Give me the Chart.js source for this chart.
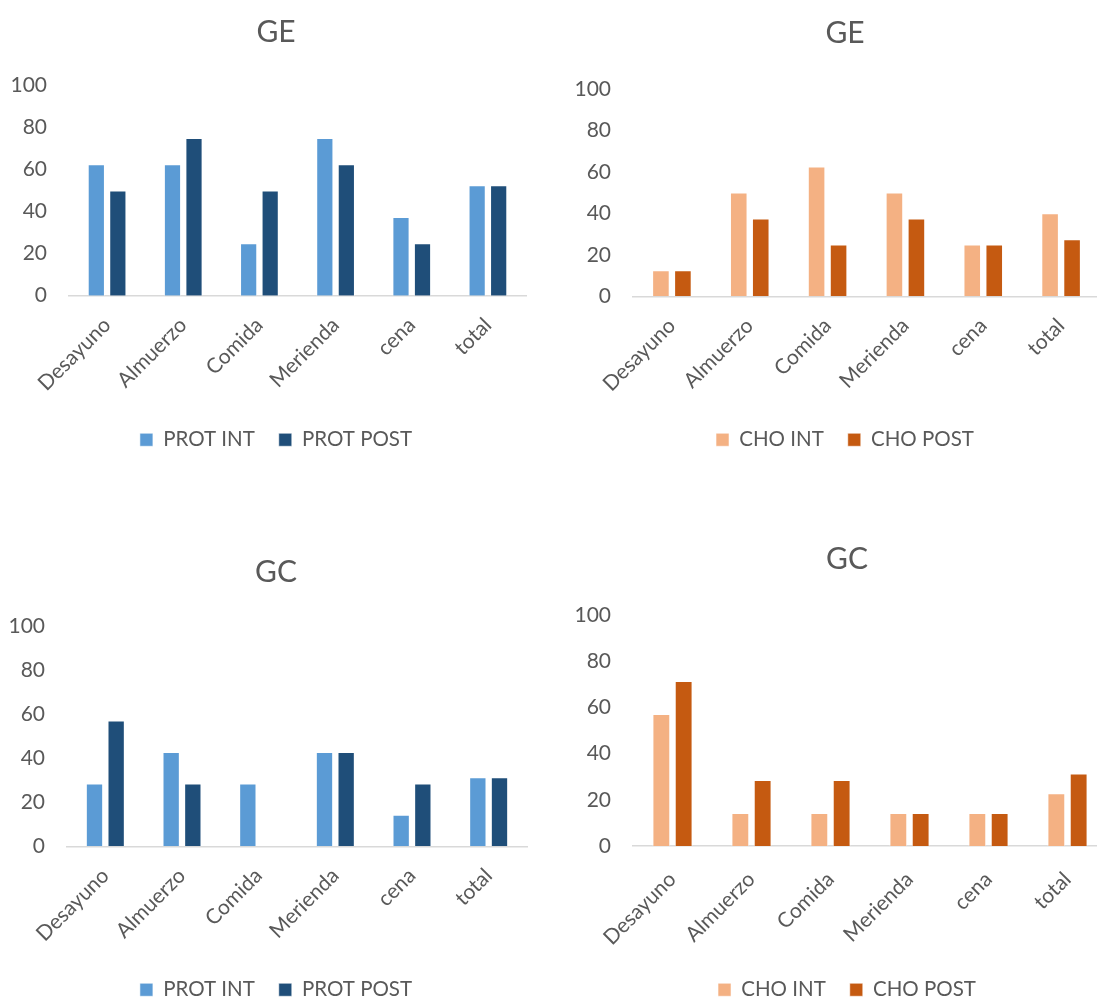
<!DOCTYPE html>
<html lang="es">
<head>
<meta charset="utf-8">
<title>GE / GC – PROT y CHO</title>
<script src="https://cdn.jsdelivr.net/npm/chart.js@4.4.1/dist/chart.umd.min.js"></script>
<style>
  html, body { margin: 0; padding: 0; background: #ffffff; }
  body { width: 1097px; height: 1001px; overflow: hidden; position: relative; }
  canvas { position: absolute; }
</style>
</head>
<body>
<canvas id="geProt"></canvas>
<canvas id="geCho"></canvas>
<canvas id="gcProt"></canvas>
<canvas id="gcCho"></canvas>
<script>
// Meal categories shared by every panel
const categories = ['Desayuno', 'Almuerzo', 'Comida', 'Merienda', 'cena', 'total'];

// Y axis tick values
const yTicks = [0, 20, 40, 60, 80, 100];

// GE group (%)
const geProtInt  = [62.5, 62.5, 25, 75, 37.5, 52.5];
const geProtPost = [50, 75, 50, 62.5, 25, 52.5];
const geChoInt   = [12.5, 50, 62.5, 50, 25, 40];
const geChoPost  = [12.5, 37.5, 25, 37.5, 25, 27.5];

// GC group (%)
const gcProtInt  = [28.57, 42.86, 28.57, 42.86, 14.29, 31.43];
const gcProtPost = [57.14, 28.57, 0, 42.86, 28.57, 31.43];
const gcChoInt   = [57.14, 14.29, 14.29, 14.29, 14.29, 22.86];
const gcChoPost  = [71.43, 28.57, 28.57, 14.29, 14.29, 31.43];

// Series names
const protNames = ['PROT INT', 'PROT POST'];
const choNames  = ['CHO INT', 'CHO POST'];

// Palette
const BLUE_LIGHT = '#5B9BD5';
const BLUE_DARK  = '#1F4E79';
const ORANGE_LIGHT = '#F4B183';
const ORANGE_DARK  = '#C55A11';
const TEXT = '#595959';
const AXIS = '#D9D9D9';
const FONT = 'Lato, "Open Sans", sans-serif';

// Panel placement (canvas box + plot box, in canvas pixels)
const panels = [
  { id: 'geProt', title: 'GE', names: protNames, series: [geProtInt, geProtPost], colors: [BLUE_LIGHT, BLUE_DARK],
    left: 0, top: 0, width: 552, height: 460, titleY: 32, plotTop: 85.5, plotBottom: 295.7, plotLeft: 69, plotRight: 526, labelPad: 17 },
  { id: 'geCho', title: 'GE', names: choNames, series: [geChoInt, geChoPost], colors: [ORANGE_LIGHT, ORANGE_DARK],
    left: 567, top: 0, width: 556, height: 460, titleY: 33, plotTop: 88.8, plotBottom: 296.3, plotLeft: 66, plotRight: 533, labelPad: 17 },
  { id: 'gcProt', title: 'GC', names: protNames, series: [gcProtInt, gcProtPost], colors: [BLUE_LIGHT, BLUE_DARK],
    left: 0, top: 540, width: 552, height: 470, titleY: 32, plotTop: 86.3, plotBottom: 306.3, plotLeft: 67, plotRight: 527, labelPad: 17 },
  { id: 'gcCho', title: 'GC', names: choNames, series: [gcChoInt, gcChoPost], colors: [ORANGE_LIGHT, ORANGE_DARK],
    left: 567, top: 540, width: 560, height: 470, titleY: 19, plotTop: 75, plotBottom: 306, plotLeft: 66, plotRight: 540, labelPad: 21 }
];

const TITLE_SIZE = 30;
const TITLE_LINE = TITLE_SIZE * 1.2;

panels.forEach(p => {
  const canvas = document.getElementById(p.id);
  canvas.width = p.width;
  canvas.height = p.height;
  canvas.style.left = p.left + 'px';
  canvas.style.top = p.top + 'px';
  canvas.style.width = p.width + 'px';
  canvas.style.height = p.height + 'px';

  new Chart(canvas, {
    type: 'bar',
    data: {
      labels: categories,
      datasets: p.series.map((values, i) => ({
        label: p.names[i],
        data: values,
        backgroundColor: p.colors[i],
        borderColor: 'rgba(255,255,255,0.55)',
        borderWidth: 1,
        categoryPercentage: 0.565,
        barPercentage: 0.8
      }))
    },
    options: {
      responsive: false,
      animation: false,
      devicePixelRatio: 1,
      layout: { padding: 0 },
      plugins: {
        tooltip: { enabled: false },
        title: {
          display: true,
          text: p.title,
          color: TEXT,
          font: { family: FONT, size: TITLE_SIZE, weight: 'normal', lineHeight: 1.2 },
          padding: { top: p.titleY - TITLE_LINE / 2, bottom: p.plotTop - p.titleY - TITLE_LINE / 2 }
        },
        legend: {
          display: true,
          position: 'bottom',
          labels: {
            color: TEXT,
            font: { family: FONT, size: 20.5 },
            boxWidth: 13,
            boxHeight: 13,
            padding: 24
          }
        }
      },
      scales: {
        x: {
          offset: true,
          grid: { display: false, drawTicks: false },
          border: { display: true, color: AXIS, width: 1.5 },
          ticks: {
            color: TEXT,
            font: { family: FONT, size: 21 },
            minRotation: 45,
            maxRotation: 45,
            autoSkip: false,
            padding: p.labelPad
          },
          afterFit: scale => {
            const legendH = scale.chart.legend ? scale.chart.legend.height : 0;
            scale.height = p.height - legendH - p.plotBottom;
          }
        },
        y: {
          min: yTicks[0],
          max: yTicks[yTicks.length - 1],
          grid: { display: false, drawTicks: false },
          border: { display: false },
          ticks: {
            stepSize: yTicks[1] - yTicks[0],
            color: TEXT,
            font: { family: FONT, size: 21 },
            padding: 22
          },
          afterFit: scale => { scale.width = p.plotLeft; }
        },
        // empty right-hand gutter so title and legend stay centred on the whole panel
        gutter: {
          type: 'linear',
          position: 'right',
          display: true,
          grid: { display: false, drawTicks: false },
          border: { display: false },
          ticks: { display: false },
          afterFit: scale => { scale.width = p.width - p.plotRight; }
        }
      }
    }
  });
});
</script>
</body>
</html>
